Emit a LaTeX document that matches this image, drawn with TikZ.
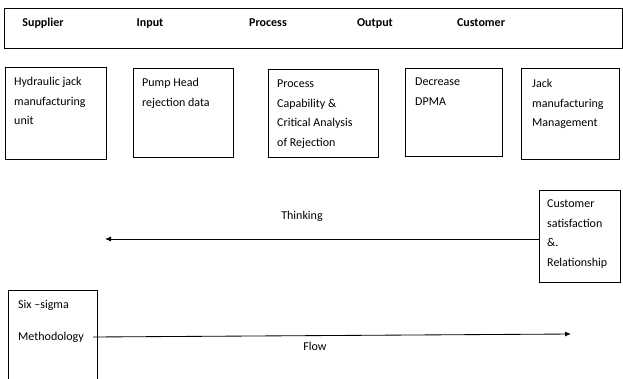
\documentclass[tikz,border=0pt]{standalone}
\usepackage{fontspec}
\setmainfont{Carlito}
\usetikzlibrary{arrows.meta,positioning}

\tikzset{
  box/.style={draw, line width=0.85pt, rectangle, inner sep=0pt, anchor=north west},
  boxtext/.style={anchor=north west, align=left, inner sep=0pt, font=\fontsize{12}{19.5}\selectfont},
  head/.style={font=\bfseries\fontsize{12}{14}\selectfont, inner sep=0pt, anchor=base},
  plain/.style={font=\fontsize{12}{14}\selectfont, inner sep=0pt},
  flowarrow/.style={draw, line width=0.85pt, -{Latex[length=6pt,width=5pt]}},
}

\begin{document}
\begin{tikzpicture}[x=1pt,y=-1pt]
  \useasboundingbox (0,0) rectangle (623,378);

  % header strip
  \node[box, minimum width=618pt, minimum height=40pt] (headbox) at (4,8) {};
  \node[head] (hsup) at (43,26.5) {Supplier};
  \node[head] (hin) at (150,26.5) {Input};
  \node[head] (hproc) at (268,26.5) {Process};
  \node[head] (hout) at (375,26.5) {Output};
  \node[head] (hcust) at (481,26.5) {Customer};

  % SIPOC boxes
  \node[box, minimum width=101pt, minimum height=92pt] (supbox) at (5,67) {};
  \node[boxtext] (suptext) at ([xshift=9pt,yshift=-10pt]supbox.north west) {Hydraulic jack\\manufacturing\\unit};

  \node[box, minimum width=100pt, minimum height=89pt] (inbox) at (133,68) {};
  \node[boxtext] (intext) at ([xshift=9pt,yshift=-10pt]inbox.north west) {Pump Head\\rejection data};

  \node[box, minimum width=110pt, minimum height=88pt] (procbox) at (268,69) {};
  \node[boxtext] (proctext) at ([xshift=9pt,yshift=-11pt]procbox.north west) {Process\\Capability \&\\Critical Analysis\\of Rejection};

  \node[box, minimum width=97pt, minimum height=88pt] (outbox) at (405,68) {};
  \node[boxtext] (outtext) at ([xshift=10pt,yshift=-10pt]outbox.north west) {Decrease\\DPMA};

  \node[box, minimum width=98pt, minimum height=91pt] (custbox) at (521,68) {};
  \node[boxtext] (custtext) at ([xshift=11pt,yshift=-11pt]custbox.north west) {Jack\\manufacturing\\Management};

  % feedback
  \node[box, minimum width=81pt, minimum height=92pt] (satbox) at (539,190) {};
  \node[boxtext] (sattext) at ([xshift=8pt,yshift=-10pt]satbox.north west) {Customer\\satisfaction\\\&.\\Relationship};
  \coordinate (thinkend) at (105,239);
  \draw[flowarrow] (satbox.west |- thinkend) -- (thinkend);
  \node[plain] (thinklabel) at (302,216) {Thinking};

  % six sigma
  \draw[line width=0.85pt] (8,382) -- (8,290) -- (97,290) -- (97,382);
  \node[plain, anchor=west] (sixsigma) at (18,305) {Six –sigma};
  \node[plain, anchor=west] (method) at (18,337) {Methodology};
  \coordinate (flowend) at (571,334);
  \draw[flowarrow] ([xshift=9pt]method.east) -- (flowend);
  \node[plain] (flowlabel) at (315,346) {Flow};
\end{tikzpicture}
\end{document}
